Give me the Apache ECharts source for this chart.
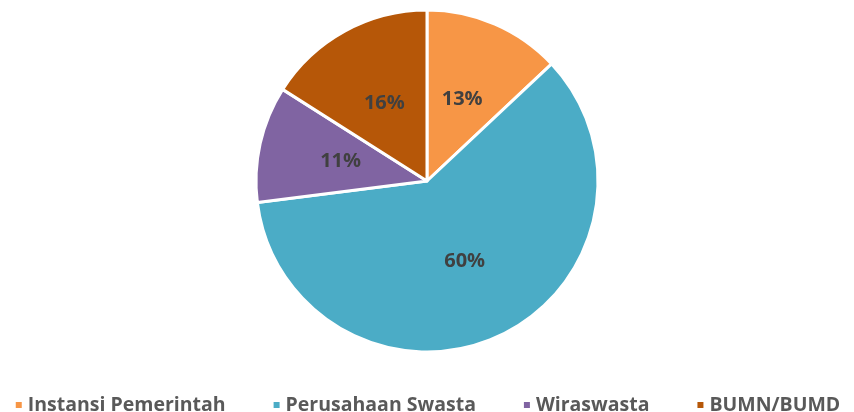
<!DOCTYPE html>
<html>
<head>
<meta charset="utf-8">
<script src="https://cdn.jsdelivr.net/npm/echarts@6/dist/echarts.min.js"></script>
<style>
  html, body { margin: 0; padding: 0; background: #fff; }
  #main { width: 854px; height: 412px; }
</style>
</head>
<body>
<div id="main"></div>
<script>
var categories = ['Instansi Pemerintah', 'Perusahaan Swasta', 'Wiraswasta', 'BUMN/BUMD'];
var values = [13, 60, 11, 16];
var colors = ['#F79646', '#4BACC6', '#8064A2', '#B65708'];

var pieData = [];
for (var i = 0; i < categories.length; i++) {
    pieData.push({ name: categories[i], value: values[i] });
}

var myChart = echarts.init(document.getElementById('main'));
var option = {
    color: colors,
    animation: false,
    legend: {
        data: categories,
        top: 390,
        left: 'center',
        icon: 'rect',
        itemWidth: 8,
        itemHeight: 8,
        itemGap: 46,
        textStyle: {
            color: '#595959',
            fontSize: 19.5,
            fontWeight: 'bold',
            fontFamily: 'Open Sans'
        }
    },
    series: [
        {
            type: 'pie',
            center: [427, 181],
            radius: 171,
            startAngle: 90,
            clockwise: true,
            data: pieData,
            itemStyle: {
                borderColor: '#fff',
                borderWidth: 3
            },
            label: {
                show: true,
                position: 'inner',
                formatter: '{c}%',
                color: '#404040',
                fontSize: 20,
                fontWeight: 'bold',
                fontFamily: 'Open Sans'
            },
            labelLine: { show: false }
        }
    ]
};
myChart.setOption(option);
</script>
</body>
</html>
